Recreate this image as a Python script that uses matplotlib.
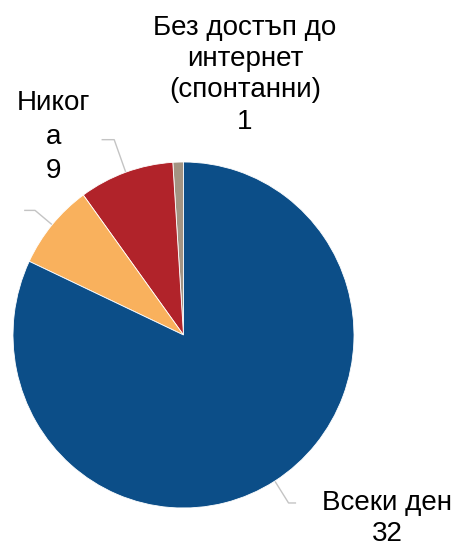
import numpy as np
import matplotlib
matplotlib.use("Agg")
from matplotlib import pyplot as plt

# slices in drawing order (counter-clockwise from 12 o'clock)
categories = ["Без достъп до\nинтернет\n(спонтанни)\n1", "Никог\nа\n9", "", "Всеки ден\n32"]
values = [1, 9, 8, 82]
colors = ["#a39483", "#b1232a", "#f9b15d", "#0c4e88"]

plt.rcParams['font.family'] = ['Liberation Sans', 'DejaVu Sans']

fig = plt.figure(figsize=(4.58, 5.48), dpi=100)
ax = fig.add_axes([13 / 458, 40 / 548, 341 / 458, 346 / 548])

wedges, _ = ax.pie(values, colors=colors, startangle=90, counterclock=True,
                   radius=1.0, wedgeprops=dict(linewidth=0.6, edgecolor="white"))
ax.set_xlim(-1, 1)
ax.set_ylim(-1, 1)
ax.set_aspect('auto')
ax.axis('off')

# leader lines: out from the edge at each wedge's middle, then a short tail
leaders = {1: (1.2, -0.07), 2: (1.13, -0.06), 3: (1.15, 0.04)}
for i, (r_out, tail) in leaders.items():
    w = wedges[i]
    mid = np.deg2rad((w.theta1 + w.theta2) / 2)
    x0, y0 = np.cos(mid), np.sin(mid)
    x1, y1 = r_out * np.cos(mid), r_out * np.sin(mid)
    ax.plot([x0, x1, x1 + tail], [y0, y1, y1], color="#c4c4c4", lw=1.0,
            clip_on=False, zorder=0)

label_pos = [(0.36, 1.505), (-0.765, 1.145), None, (1.194, -1.06)]
spacing = [1.27, 1.4, None, 1.27]
for text, pos, ls in zip(categories, label_pos, spacing):
    if pos is None or not text:
        continue
    ax.text(pos[0], pos[1], text, ha="center", va="center", fontsize=20,
            linespacing=ls, color="black")

fig.savefig("out.png", dpi=100)
